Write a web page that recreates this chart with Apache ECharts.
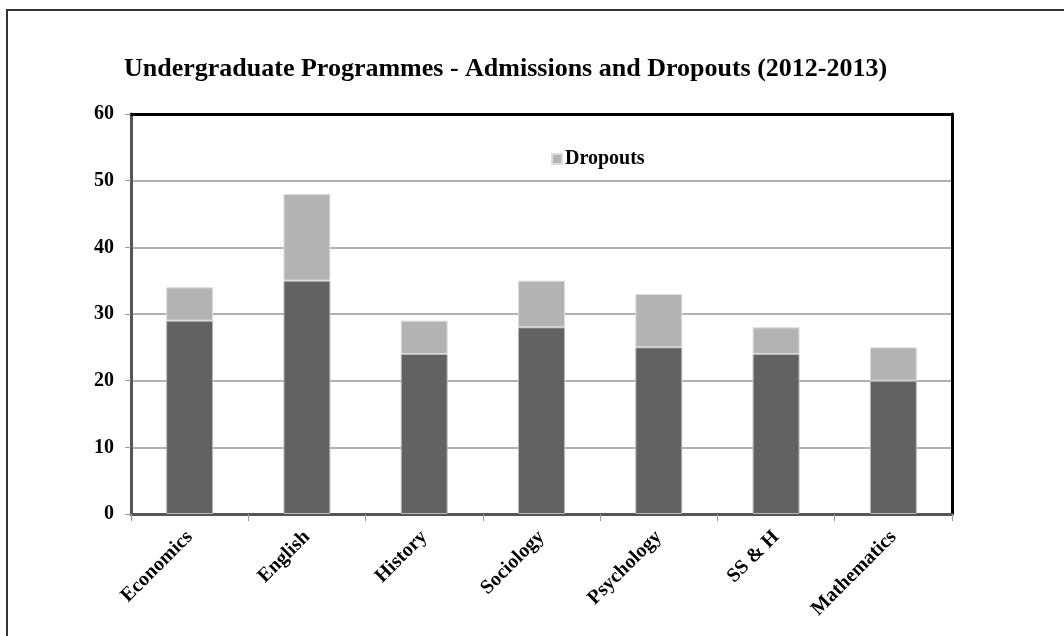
<!DOCTYPE html>
<html>
<head>
<meta charset="utf-8">
<script src="https://cdn.jsdelivr.net/npm/echarts@6/dist/echarts.min.js"></script>
<style>
  html, body { margin: 0; padding: 0; background: #fff; }
  #chart { width: 1064px; height: 636px; }
</style>
</head>
<body>
<div id="chart"></div>
<script>
// Programmes and their 2012-2013 figures
const programmes = ['Economics', 'English', 'History', 'Sociology', 'Psychology', 'SS & H', 'Mathematics'];
const retained = [29, 35, 24, 28, 25, 24, 20];
const dropouts = [5, 13, 5, 7, 8, 4, 5];
const yTicks = { min: 0, max: 60, interval: 10 };

const serif = '"Liberation Serif", "DejaVu Serif", serif';
const chart = echarts.init(document.getElementById('chart'), null, { renderer: 'canvas' });

chart.setOption({
  backgroundColor: '#fff',
  animation: false,
  graphic: [{
    type: 'rect',
    shape: { x: 7, y: 10, width: 1200, height: 800 },
    style: { fill: 'none', stroke: '#333', lineWidth: 2 },
    silent: true,
    z: -10
  }],
  title: {
    text: 'Undergraduate Programmes - Admissions and Dropouts (2012-2013)',
    left: 119,
    top: 51,
    textStyle: { fontFamily: serif, fontWeight: 'bold', fontSize: 26, color: '#000' }
  },
  legend: {
    data: ['Dropouts'],
    left: 546,
    top: 144,
    itemWidth: 10,
    itemHeight: 10,
    itemGap: 4,
    icon: 'rect',
    textStyle: { fontFamily: serif, fontWeight: 'bold', fontSize: 20, color: '#000', padding: [0, 0, 0, -2] }
  },
  grid: {
    left: 131, right: 112, top: 114, bottom: 122,
    show: false,
    containLabel: false
  },
  xAxis: [{
    type: 'category',
    data: programmes,
    axisLine: { show: true, onZero: false, lineStyle: { color: '#555', width: 3 } },
    axisTick: { show: true, length: 7, lineStyle: { color: '#999', width: 1 } },
    axisLabel: {
      rotate: 45,
      margin: 20,
      interval: 0,
      fontFamily: serif, fontWeight: 'bold', fontSize: 20, color: '#000'
    }
  }, {
    // black frame along the top of the plot
    type: 'category',
    position: 'top',
    data: programmes,
    axisLine: { show: true, onZero: false, lineStyle: { color: '#000', width: 3 } },
    axisTick: { show: false },
    axisLabel: { show: false }
  }],
  yAxis: [{
    type: 'value',
    min: yTicks.min,
    max: yTicks.max,
    interval: yTicks.interval,
    axisLine: { show: true, onZero: false, lineStyle: { color: '#555', width: 3 } },
    axisTick: { show: true, length: 6, lineStyle: { color: '#999', width: 1 } },
    splitLine: { show: true, lineStyle: { color: '#999', width: 1.5 } },
    axisLabel: {
      margin: 17,
      fontFamily: serif, fontWeight: 'bold', fontSize: 20, color: '#000'
    }
  }, {
    // black frame along the right of the plot
    type: 'value',
    position: 'right',
    min: yTicks.min,
    max: yTicks.max,
    interval: yTicks.interval,
    axisLine: { show: true, onZero: false, lineStyle: { color: '#000', width: 3 } },
    axisTick: { show: false },
    axisLabel: { show: false },
    splitLine: { show: false }
  }],
  series: [
    {
      name: 'Admissions',
      type: 'bar',
      stack: 'total',
      barWidth: '40%',
      data: retained,
      itemStyle: { color: '#626262', borderColor: '#b8b8b8', borderWidth: 1 }
    },
    {
      name: 'Dropouts',
      type: 'bar',
      stack: 'total',
      barWidth: '40%',
      data: dropouts,
      itemStyle: { color: '#b3b3b3', borderColor: '#dcdcdc', borderWidth: 1 }
    }
  ]
});
</script>
</body>
</html>
